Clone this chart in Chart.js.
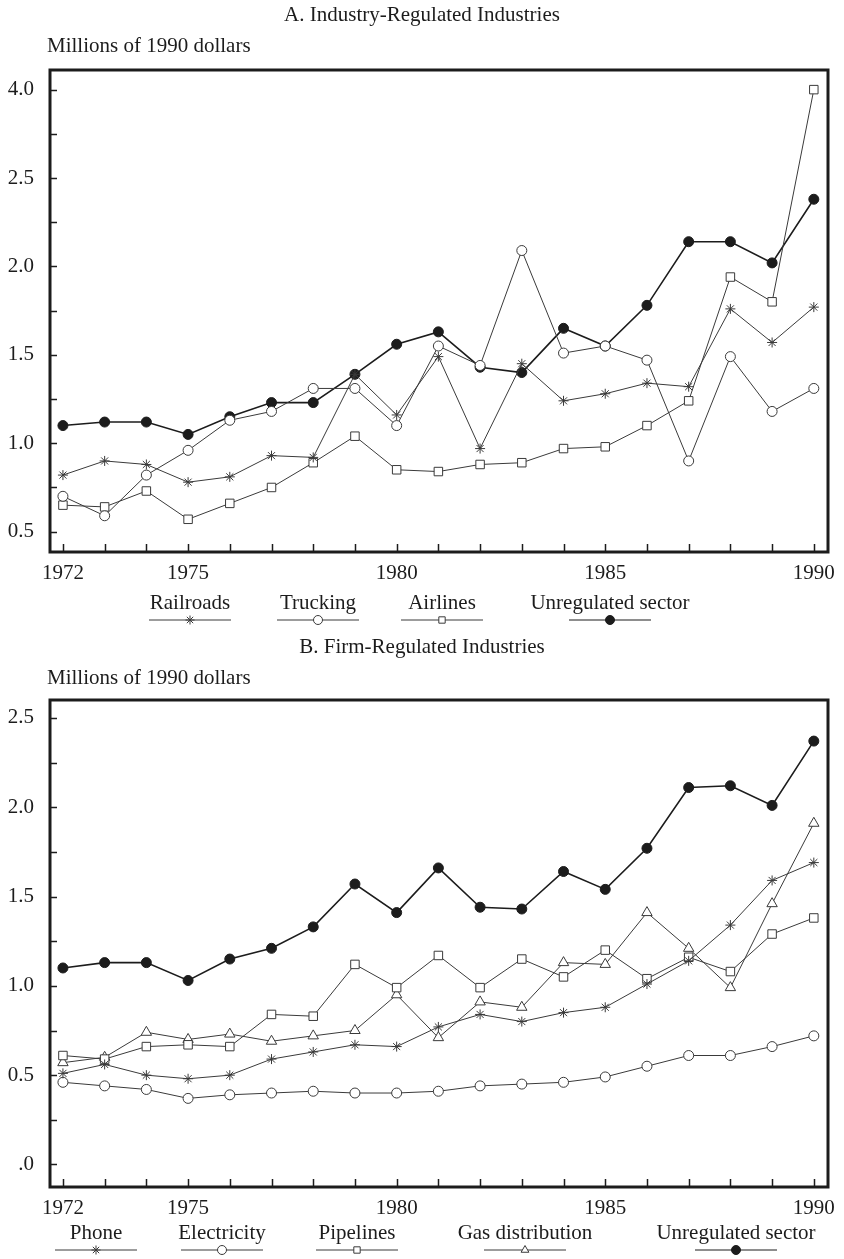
<!DOCTYPE html>
<html>
<head>
<meta charset="utf-8">
<script src="https://cdn.jsdelivr.net/npm/chart.js"></script>
<style>
  html, body { margin: 0; padding: 0; background: #fff; }
  .panel { position: absolute; left: 0; width: 844px; }
  #panelA { top: 0; height: 632px; }
  #panelB { top: 632px; height: 627px; }
</style>
</head>
<body>
<div class="panel" id="panelA"><canvas id="chartA"></canvas></div>
<div class="panel" id="panelB"><canvas id="chartB"></canvas></div>
<script>
const years = [1972, 1973, 1974, 1975, 1976, 1977, 1978, 1979, 1980, 1981,
               1982, 1983, 1984, 1985, 1986, 1987, 1988, 1989, 1990];
const labeledYears = [1972, 1975, 1980, 1985, 1990];

// Panel A: industry-regulated industries (millions of 1990 dollars)
const railroads    = [0.82, 0.90, 0.88, 0.78, 0.81, 0.93, 0.92, 1.39, 1.16, 1.49,
                      0.97, 1.45, 1.24, 1.28, 1.34, 1.32, 1.76, 1.57, 1.77];
const trucking     = [0.70, 0.59, 0.82, 0.96, 1.13, 1.18, 1.31, 1.31, 1.10, 1.55,
                      1.44, 2.09, 1.51, 1.55, 1.47, 0.90, 1.49, 1.18, 1.31];
const airlines     = [0.65, 0.64, 0.73, 0.57, 0.66, 0.75, 0.89, 1.04, 0.85, 0.84,
                      0.88, 0.89, 0.97, 0.98, 1.10, 1.24, 1.94, 1.80, 4.00];
const unregulatedA = [1.10, 1.12, 1.12, 1.05, 1.15, 1.23, 1.23, 1.39, 1.56, 1.63,
                      1.43, 1.40, 1.65, 1.55, 1.78, 2.14, 2.14, 2.02, 2.38];

// Panel B: firm-regulated industries
const phone           = [0.51, 0.56, 0.50, 0.48, 0.50, 0.59, 0.63, 0.67, 0.66, 0.77,
                         0.84, 0.80, 0.85, 0.88, 1.01, 1.14, 1.34, 1.59, 1.69];
const electricity     = [0.46, 0.44, 0.42, 0.37, 0.39, 0.40, 0.41, 0.40, 0.40, 0.41,
                         0.44, 0.45, 0.46, 0.49, 0.55, 0.61, 0.61, 0.66, 0.72];
const pipelines       = [0.61, 0.59, 0.66, 0.67, 0.66, 0.84, 0.83, 1.12, 0.99, 1.17,
                         0.99, 1.15, 1.05, 1.20, 1.04, 1.16, 1.08, 1.29, 1.38];
const gasDistribution = [0.57, 0.60, 0.74, 0.70, 0.73, 0.69, 0.72, 0.75, 0.95, 0.71,
                         0.91, 0.88, 1.13, 1.12, 1.41, 1.21, 0.99, 1.46, 1.91];
const unregulatedB    = [1.10, 1.13, 1.13, 1.03, 1.15, 1.21, 1.33, 1.57, 1.41, 1.66,
                         1.44, 1.43, 1.64, 1.54, 1.77, 2.11, 2.12, 2.01, 2.37];

const FONT = '"Liberation Serif", "Times New Roman", serif';
const INK = '#1c1c1c';
const LINE = '#3a3a3a';

// panel A axis jumps from 2.5 to 4.0 in one tick step
function brokenAxis(v) {
  return v <= 2.5 ? v : 2.5 + (v - 2.5) / 3;
}
function plainAxis(v) { return v; }

function quarters(from, to) {
  const out = [];
  for (let v = from; v <= to + 1e-9; v += 0.25) out.push({ value: v });
  return out;
}

const panelText = {
  id: 'panelText',
  afterDatasetsDraw(chart, args, opts) {
    const ctx = chart.ctx;
    const area = chart.chartArea;
    const xs = chart.scales.x, ys = chart.scales.y;
    ctx.save();
    ctx.strokeStyle = INK;
    // inward ticks
    ctx.lineWidth = 1.5;
    ctx.beginPath();
    ys.ticks.forEach(t => {
      const py = Math.round(ys.getPixelForValue(t.value)) + 0.5;
      ctx.moveTo(area.left, py);
      ctx.lineTo(area.left + 7, py);
    });
    xs.ticks.forEach(t => {
      const px = Math.round(xs.getPixelForValue(t.value)) + 0.5;
      ctx.moveTo(px, area.bottom);
      ctx.lineTo(px, area.bottom - 8);
    });
    ctx.stroke();
    // frame
    ctx.lineWidth = 3;
    ctx.strokeRect(area.left, area.top, area.right - area.left, area.bottom - area.top);
    ctx.restore();
  },
  afterDraw(chart, args, opts) {
    const ctx = chart.ctx;
    const area = chart.chartArea;
    ctx.save();
    ctx.fillStyle = INK;
    ctx.font = '21px ' + FONT;
    ctx.textBaseline = 'middle';
    ctx.textAlign = 'center';
    ctx.fillText(opts.title, chart.width / 2, opts.titleY);
    ctx.textAlign = 'left';
    ctx.fillText('Millions of 1990 dollars', 47, opts.captionY);

    // legend: name above, line sample with marker below
    const textY = area.bottom + opts.legendGap;
    const lineY = textY + 17;
    chart.data.datasets.forEach((ds, i) => {
      const cx = opts.legendX[i];
      ctx.fillStyle = INK;
      ctx.textAlign = 'center';
      ctx.fillText(ds.label, cx, textY);
      ctx.strokeStyle = ds.borderColor;
      ctx.lineWidth = 1;
      ctx.beginPath();
      ctx.moveTo(cx - 41, lineY);
      ctx.lineTo(cx + 41, lineY);
      ctx.stroke();
      ctx.fillStyle = ds.pointBackgroundColor;
      ctx.strokeStyle = ds.pointBorderColor;
      Chart.helpers.drawPoint(ctx, {
        pointStyle: ds.pointStyle, radius: 4.5, rotation: 0, borderWidth: 1
      }, cx, lineY);
    });
    ctx.restore();
  }
};

function makePanel(canvasId, cfg) {
  const datasets = cfg.series.map(s => ({
    label: s.label,
    data: years.map((yr, i) => ({ x: yr, y: cfg.toAxis(s.values[i]) })),
    borderColor: s.color,
    borderWidth: s.width,
    pointStyle: s.marker,
    pointRadius: s.radius,
    pointBackgroundColor: s.fill,
    pointBorderColor: s.color,
    pointBorderWidth: 1,
    tension: 0
  }));
  return new Chart(document.getElementById(canvasId), {
    type: 'line',
    data: { datasets },
    plugins: [panelText],
    options: {
      responsive: true,
      maintainAspectRatio: false,
      animation: false,
      layout: { padding: { top: cfg.top, right: 16, left: 0, bottom: 0 } },
      scales: {
        x: {
          type: 'linear',
          min: 1971.69,
          max: 1990.34,
          afterBuildTicks: scale => { scale.ticks = years.map(v => ({ value: v })); },
          afterFit: scale => {
            scale.height = cfg.xAxisHeight;
            scale.paddingLeft = 0;
            scale.paddingRight = 0;
          },
          grid: { display: false, drawTicks: false },
          border: { display: false },
          ticks: {
            autoSkip: false,
            maxRotation: 0,
            padding: 9,
            color: INK,
            font: { family: FONT, size: 21 },
            callback: v => labeledYears.includes(v) ? String(v) : ''
          }
        },
        y: {
          type: 'linear',
          min: cfg.yMin,
          max: cfg.yMax,
          afterBuildTicks: scale => { scale.ticks = quarters(cfg.tickFrom, cfg.tickTo); },
          afterFit: scale => { scale.width = 50; },
          grid: { display: false, drawTicks: false },
          border: { display: false },
          ticks: {
            autoSkip: false,
            padding: 16,
            color: INK,
            font: { family: FONT, size: 21 },
            callback: cfg.yLabel
          }
        }
      },
      plugins: {
        legend: { display: false },
        tooltip: { enabled: false },
        panelText: {
          title: cfg.title,
          titleY: 15,
          captionY: 46,
          legendGap: cfg.legendGap,
          legendX: cfg.legendX
        }
      }
    }
  });
}

makePanel('chartA', {
  title: 'A. Industry-Regulated Industries',
  top: 70,
  xAxisHeight: 80,
  legendGap: 51,
  yMin: 0.385,
  yMax: 3.111,
  tickFrom: 0.5,
  tickTo: 3.0,
  toAxis: brokenAxis,
  yLabel: v => {
    if (Math.abs(v - 3.0) < 1e-9) return '4.0';
    return Math.abs(v * 2 - Math.round(v * 2)) < 1e-9 ? v.toFixed(1) : '';
  },
  legendX: [190, 318, 442, 610],
  series: [
    { label: 'Railroads', values: railroads, marker: 'star', radius: 5, fill: '#fff', color: LINE, width: 1 },
    { label: 'Trucking', values: trucking, marker: 'circle', radius: 5, fill: '#fff', color: LINE, width: 1 },
    { label: 'Airlines', values: airlines, marker: 'rect', radius: 6, fill: '#fff', color: LINE, width: 1 },
    { label: 'Unregulated sector', values: unregulatedA, marker: 'circle', radius: 5, fill: INK, color: INK, width: 1.6 }
  ]
});

makePanel('chartB', {
  title: 'B. Firm-Regulated Industries',
  top: 68,
  xAxisHeight: 72,
  legendGap: 46,
  yMin: -0.126,
  yMax: 2.6,
  tickFrom: 0,
  tickTo: 2.5,
  toAxis: plainAxis,
  yLabel: v => {
    if (Math.abs(v) < 1e-9) return '.0';
    return Math.abs(v * 2 - Math.round(v * 2)) < 1e-9 ? v.toFixed(1) : '';
  },
  legendX: [96, 222, 357, 525, 736],
  series: [
    { label: 'Phone', values: phone, marker: 'star', radius: 5, fill: '#fff', color: LINE, width: 1 },
    { label: 'Electricity', values: electricity, marker: 'circle', radius: 5, fill: '#fff', color: LINE, width: 1 },
    { label: 'Pipelines', values: pipelines, marker: 'rect', radius: 6, fill: '#fff', color: LINE, width: 1 },
    { label: 'Gas distribution', values: gasDistribution, marker: 'triangle', radius: 6, fill: '#fff', color: LINE, width: 1 },
    { label: 'Unregulated sector', values: unregulatedB, marker: 'circle', radius: 5, fill: INK, color: INK, width: 1.6 }
  ]
});
</script>
</body>
</html>
